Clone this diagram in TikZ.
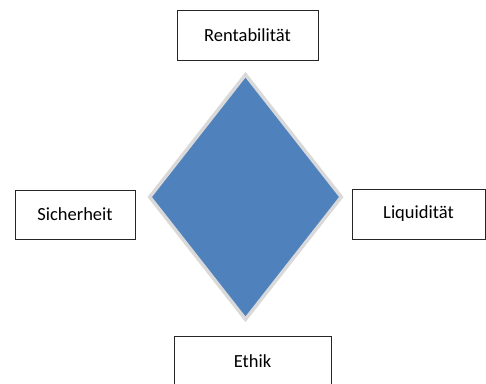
\documentclass[tikz,border=0pt]{standalone}
\usepackage{fontspec}
\setmainfont{Carlito}
\usetikzlibrary{shapes.geometric}
\definecolor{rhombblue}{HTML}{4F81BD}
\definecolor{rhombrim}{HTML}{D9D9D9}
\tikzset{
    goal/.style={rectangle,draw=black!85,line width=1pt,inner sep=0pt,
        font=\fontsize{18.5}{22}\selectfont},
    rhomb/.style={diamond,draw=rhombrim,fill=rhombblue,line width=3.5pt,
        inner sep=0pt,minimum width=193pt,minimum height=246pt},
}

\begin{document}
\begin{tikzpicture}[x=1pt,y=-1pt]
    \clip (0,0) rectangle (486,383);
    \node[rhomb] (core) at (245.5,197) {};
    \node[goal,minimum width=141pt,minimum height=50pt] (rent) at (247.5,35) {Rentabilität};
    \node[goal,minimum width=120pt,minimum height=49pt] (sich) at (75,214.5) {Sicherheit};
    \node[goal,minimum width=133pt,minimum height=50pt] (liqu) at (418.5,214) {Liquidität};
    \node[goal,minimum width=157pt,minimum height=50pt] (ethi) at (252.5,361) {Ethik};
\end{tikzpicture}
\end{document}
